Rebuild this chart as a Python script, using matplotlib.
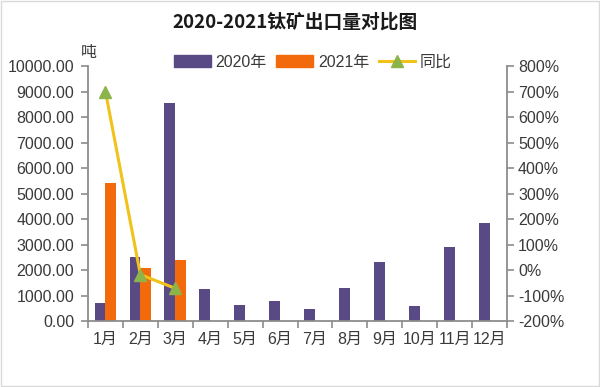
import numpy as np
import matplotlib.pyplot as plt
from matplotlib.lines import Line2D
from matplotlib.patches import Patch, Rectangle

plt.rcParams['font.family'] = ['Liberation Sans', 'Noto Sans CJK SC', 'DejaVu Sans']

## Data
months = ['1月', '2月', '3月', '4月', '5月', '6月', '7月', '8月', '9月', '10月', '11月', '12月']
y2020 = [690, 2520, 8540, 1240, 615, 800, 460, 1280, 2330, 600, 2910, 3850]
y2021 = [5420, 2060, 2390]
yoy = [700, -18, -72]

c2020 = '#594a85'
c2021 = '#f26a0c'
cline = '#f0c21a'
cmark = '#8db44a'
grey = '#8c8c8c'
txt = '#3a3a3a'

fig = plt.figure(figsize=(6, 3.87), dpi=100)
ax = fig.add_axes([88/600, 1-321/387, (507-88)/600, (321-66)/387])
ax2 = ax.twinx()

x = np.arange(len(months))
w = 0.31
ax.bar(x - w/2, y2020, w, color=c2020, zorder=2)
ax.bar(x[:len(y2021)] + w/2, y2021, w, color=c2021, zorder=2)
ax2.plot(x[:len(yoy)], yoy, color=cline, lw=2.2, marker='^', ms=9,
         mfc=cmark, mec=cmark, zorder=3)

ax.set_xlim(-0.5, 11.5)
ax.set_ylim(0, 10000)
ax2.set_ylim(-200, 800)
ax.set_yticks(np.arange(0, 10001, 1000))
ax.set_yticklabels([f'{v:.2f}' for v in np.arange(0, 10001, 1000)])
ax2.set_yticks(np.arange(-200, 801, 100))
ax2.set_yticklabels([f'{v}%' for v in range(-200, 801, 100)])

ax.set_xticks(x)
ax.set_xticklabels(months)
ax.set_xticks(np.arange(-0.5, 12, 1), minor=True)
ax.tick_params(axis='x', which='major', length=0, pad=8, labelsize=11.5, colors=txt)
ax.tick_params(axis='x', which='minor', length=5, color=grey, width=1.2)
ax.tick_params(axis='y', length=5, color=grey, width=1.2, labelsize=11.5, colors=txt, pad=5)
ax2.tick_params(axis='y', length=5, color=grey, width=1.2, labelsize=11.5, colors=txt, pad=3)
for a in (ax, ax2):
    a.spines['top'].set_visible(False)
    for s in ('left', 'right', 'bottom'):
        a.spines[s].set_color(grey)
        a.spines[s].set_linewidth(1.3)
ax.spines['right'].set_visible(False)
ax2.spines['left'].set_visible(False)
ax2.spines['bottom'].set_visible(False)

fig.text(295/600, 1-22/387, '2020-2021钛矿出口量对比图', ha='center', va='center',
         fontsize=13.5, fontweight='bold', color='#1a1a1a', family='Noto Sans CJK SC')
fig.text(89/600, 1-53/387, '吨', ha='center', va='center', fontsize=11.5, color=txt)

handles = [Patch(color=c2020), Patch(color=c2021),
           Line2D([], [], color=cline, lw=2.2, marker='^', ms=9, mfc=cmark, mec=cmark)]
fig.legend(handles, ['2020年', '2021年', '同比'], loc='center', ncol=3,
           bbox_to_anchor=(313/600, 1-62/387), frameon=False, fontsize=11.5,
           handlelength=2.3, handleheight=0.7, columnspacing=0.6, handletextpad=0.3,
           labelcolor=txt, borderpad=0)

fig.patches.append(Rectangle((0.002, 0.003), 0.996, 0.994, transform=fig.transFigure,
                             fill=False, ec='#d9d9d9', lw=1))

fig.savefig('out.png', dpi=100)
